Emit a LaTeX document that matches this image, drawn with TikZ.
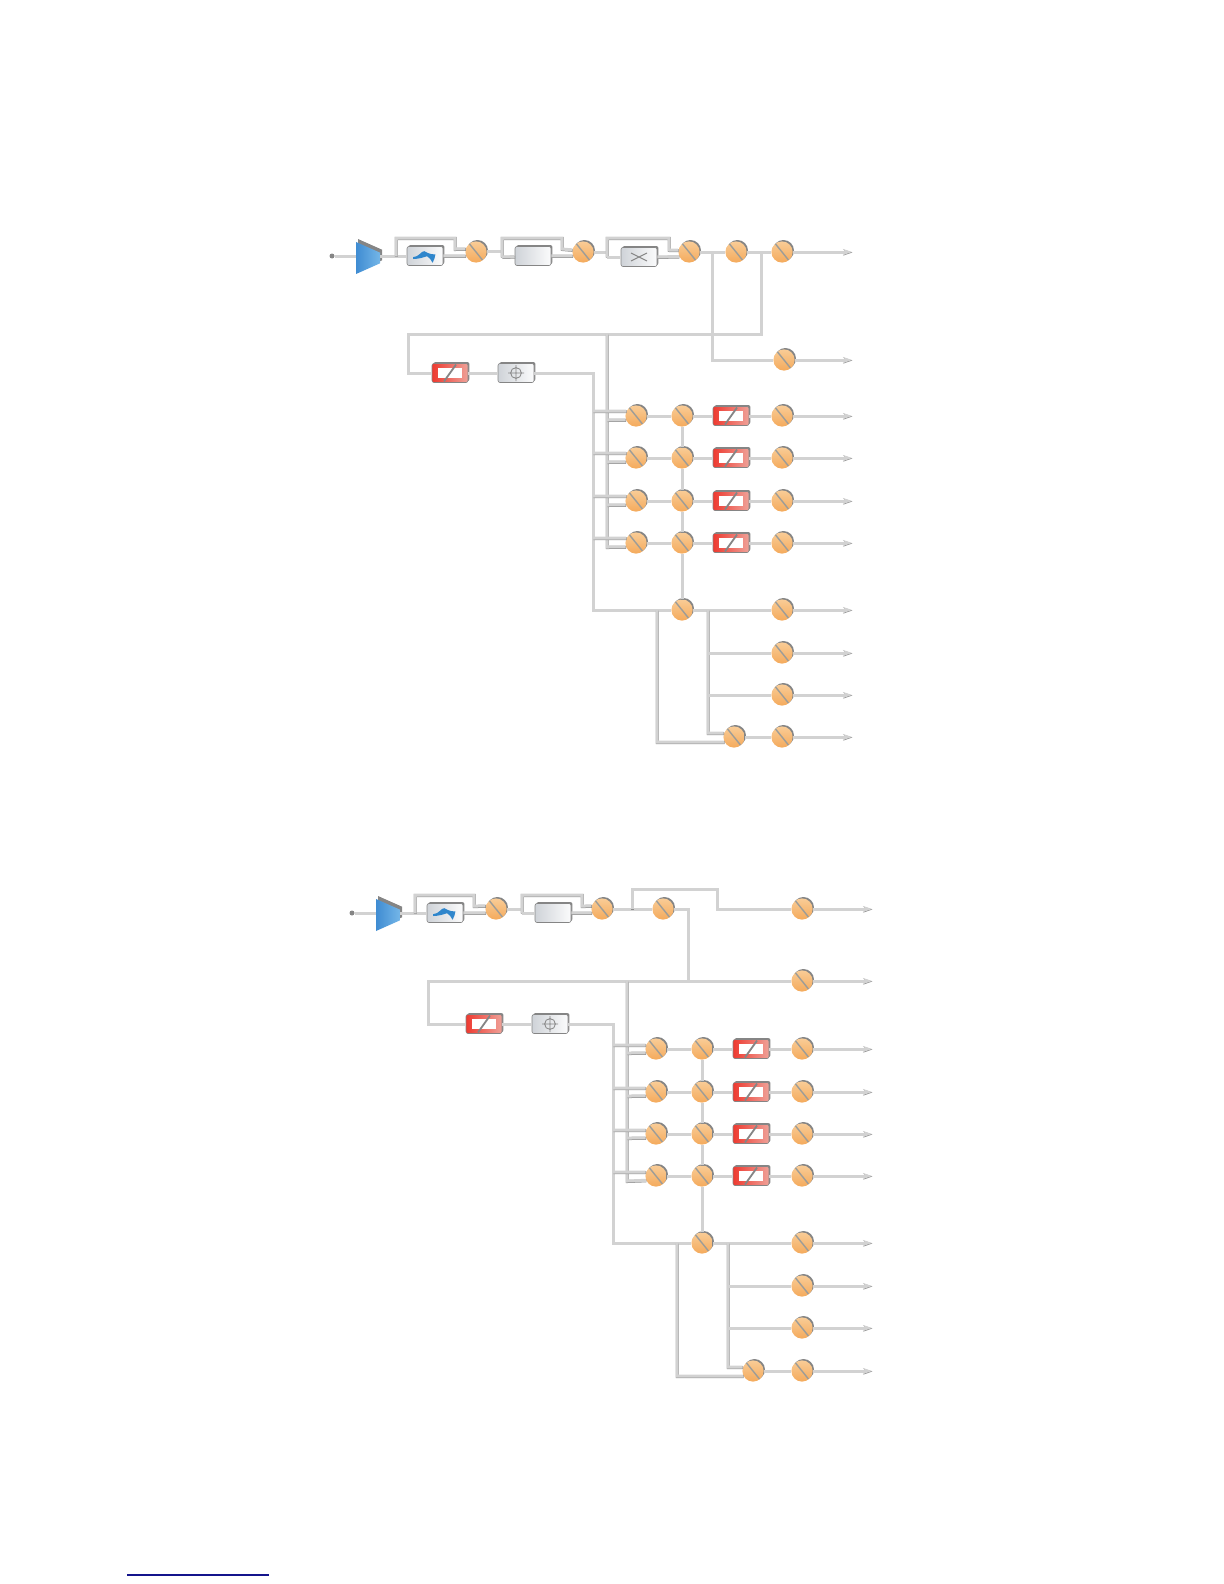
\documentclass[tikz,border=0pt]{standalone}
\usetikzlibrary{arrows.meta,shapes.geometric,shadows}
\definecolor{wirelight}{HTML}{D2D2D2}
\definecolor{wiredark}{HTML}{8C8C8C}
\definecolor{edgegrey}{HTML}{858585}
\definecolor{slashgrey}{HTML}{9C9C98}
\definecolor{ballhi}{HTML}{F9CC96}
\definecolor{balllo}{HTML}{F4AA5C}
\definecolor{ampblue}{HTML}{3F8CD2}
\definecolor{amplight}{HTML}{74B6E8}
\definecolor{redhi}{HTML}{EE3A30}
\definecolor{redlo}{HTML}{EFA198}
\definecolor{boxlo}{HTML}{CFD3D8}
\definecolor{filterblue}{HTML}{2F86CC}
\definecolor{linkblue}{HTML}{14148C}
\tikzset{
  wire/.style={draw=wirelight, line width=1.5pt, preaction={draw=wiredark, line width=1.5pt, transform canvas={shift={(.2pt,-.25pt)}}}},
  feed/.style={wire, -{Stealth[length=4.5pt,width=3pt,fill=wirelight]}},
  edge shade/.style={drop shadow={shadow xshift=.7pt,shadow yshift=.7pt,opacity=1,fill=edgegrey}},
  ball/.style={circle, minimum size=10.6pt, inner sep=0pt, top color=ballhi, bottom color=balllo, edge shade,
    path picture={\draw[slashgrey, line width=.7pt] (path picture bounding box.north west) ++(2pt,-1.2pt) -- ([shift={(-2pt,1.2pt)}]path picture bounding box.south east);}},
  panelbox/.style={rectangle, rounded corners=1pt, minimum width=18pt, minimum height=9.5pt, inner sep=0pt, edge shade, draw=edgegrey, line width=.3pt},
  plainbox/.style={panelbox, left color=boxlo, right color=white!92!boxlo},
  filterbox/.style={plainbox,
    path picture={\fill[filterblue, sharp corners, shift={(path picture bounding box.center)}, x=1pt, y=1pt] (-6,-.6) .. controls (-3,-.5) and (-1.8,2.6) .. (-.4,2.4) .. controls (.8,2.2) and (1,.9) .. (5.2,.8) .. controls (5,-.5) and (4.6,-2) .. (3.8,-3.4) .. controls (3,-2) and (2.2,-.6) .. (1,-.1) .. controls (-.5,-.6) and (-3,-1.5) .. (-6,-1.5) -- cycle;}},
  crossbox/.style={plainbox,
    path picture={\draw[edgegrey, sharp corners, line width=.5pt] ([shift={(-4pt,2pt)}]path picture bounding box.center) -- ++(8pt,-4pt) ([shift={(-4pt,-2pt)}]path picture bounding box.center) -- ++(8pt,4pt);}},
  phasebox/.style={plainbox,
    path picture={\draw[edgegrey, sharp corners, line width=.4pt] (path picture bounding box.center) circle (2.7pt) ([xshift=-4pt]path picture bounding box.center) -- ++(8pt,0) ([yshift=-4pt]path picture bounding box.center) -- ++(0,8pt);}},
  attenbox/.style={panelbox, left color=redhi, right color=redlo,
    path picture={\fill[white, sharp corners] ([shift={(-6.2pt,-2.7pt)}]path picture bounding box.center) rectangle ++(12.4pt,5.4pt);
      \draw[edgegrey, line width=.9pt] ([shift={(-3pt,-4.2pt)}]path picture bounding box.center) -- ++(6pt,8.4pt);}},
  ampnode/.style={trapezium, trapezium angle=45, trapezium stretches=true, shape border rotate=270, minimum width=16pt, minimum height=12pt, inner sep=1pt, left color=ampblue, right color=amplight, drop shadow={shadow xshift=1pt,shadow yshift=1.5pt,opacity=1,fill=edgegrey}},
  plug/.style={circle, fill=edgegrey, minimum size=2.5pt, inner sep=0pt}
}
\begin{document}
\begin{tikzpicture}[x=.5pt,y=-.5pt]
\useasboundingbox (0,0) rectangle (1224,1584);
\node[plug] (aIn) at (332,256) {};
\node[ampnode] (aAmp) at (368,258) {};
\node[filterbox] (aFilter) at (425,256) {};
\node[ball] (aS1) at (476,252) {};
\node[plainbox] (aBlank) at (533,256) {};
\node[ball] (aS2) at (583,252) {};
\node[crossbox] (aCross) at (639,257) {};
\node[ball] (aS3) at (689,252) {};
\node[ball] (aS4) at (736,252) {};
\node[ball] (aS5) at (782,252) {};
\node[ball] (aS6) at (784,360) {};
\node[attenbox] (aAtten) at (450,373) {};
\node[phasebox] (aPhase) at (516,373) {};
\node[ball] (aA1) at (636,416) {};
\node[ball] (aB1) at (682,416) {};
\node[attenbox] (aR1) at (731,416) {};
\node[ball] (aC1) at (782,416) {};
\node[ball] (aA2) at (636,458) {};
\node[ball] (aB2) at (682,458) {};
\node[attenbox] (aR2) at (731,458) {};
\node[ball] (aC2) at (782,458) {};
\node[ball] (aA3) at (636,501) {};
\node[ball] (aB3) at (682,501) {};
\node[attenbox] (aR3) at (731,501) {};
\node[ball] (aC3) at (782,501) {};
\node[ball] (aA4) at (636,543) {};
\node[ball] (aB4) at (682,543) {};
\node[attenbox] (aR4) at (731,543) {};
\node[ball] (aC4) at (782,543) {};
\node[ball] (aE) at (682,610) {};
\node[ball] (aF1) at (782,610) {};
\node[ball] (aF2) at (782,653) {};
\node[ball] (aF3) at (782,695) {};
\node[ball] (aF4) at (782,737) {};
\node[ball] (aG) at (734,737) {};
\coordinate (aI1) at (356,256);
\coordinate (aI2) at (380,256);
\coordinate (aJ1) at (396,256);
\coordinate (aJ2) at (396,238);
\coordinate (aJ3) at (455,238);
\coordinate (aJ4) at (455,249);
\coordinate (aK1) at (502,251);
\coordinate (aK2) at (502,238);
\coordinate (aK3) at (562,238);
\coordinate (aK4) at (562,249);
\coordinate (aK5) at (502,257);
\coordinate (aL1) at (607,252);
\coordinate (aL2) at (607,238);
\coordinate (aL3) at (669,238);
\coordinate (aL4) at (669,250);
\coordinate (aL5) at (607,257);
\coordinate (aM1) at (712,252);
\coordinate (aM2) at (712,360);
\coordinate (aN1) at (761,252);
\coordinate (aN2) at (761,334);
\coordinate (aN3) at (408,334);
\coordinate (aN4) at (408,373);
\coordinate (aP1) at (593,373);
\coordinate (aP2) at (593,610);
\coordinate (aT1) at (593,411);
\coordinate (aT2) at (593,453);
\coordinate (aT3) at (593,496);
\coordinate (aT4) at (593,538);
\coordinate (aU0) at (607,334);
\coordinate (aU1) at (607,420);
\coordinate (aU2) at (607,462);
\coordinate (aU3) at (607,505);
\coordinate (aU4) at (607,547);
\coordinate (aV1) at (657,610);
\coordinate (aV2) at (657,742);
\coordinate (aW1) at (708,610);
\coordinate (aW2) at (708,653);
\coordinate (aW3) at (708,695);
\coordinate (aW4) at (708,733);
\coordinate (aOut1) at (852,252);
\coordinate (aOut2) at (852,360);
\coordinate (aOut3) at (852,416);
\coordinate (aOut4) at (852,458);
\coordinate (aOut5) at (852,501);
\coordinate (aOut6) at (852,543);
\coordinate (aOut7) at (852,610);
\coordinate (aOut8) at (852,653);
\coordinate (aOut9) at (852,695);
\coordinate (aOut10) at (852,737);
\draw[wire] (aIn) -- (aI1);
\draw[wire] (aI2) -- (aFilter);
\draw[wire] (aJ1) -- (aJ2) -- (aJ3) -- (aJ4) -- (aS1.164);
\draw[wire] (aFilter) -- (aS1.201);
\draw[wire] (aS1.east |- aK1) -- (aK1);
\draw[wire] (aK5) -- (aK2) -- (aK3) -- (aK4) -- (aS2.169);
\draw[wire] (aK5) -- (aBlank);
\draw[wire] (aBlank) -- (aS2.201);
\draw[wire] (aS2) -- (aL1);
\draw[wire] (aL5) -- (aL2) -- (aL3) -- (aL4) -- (aS3.170);
\draw[wire] (aL5) -- (aCross);
\draw[wire] (aCross) -- (aS3.205);
\draw[wire] (aS3) -- (aS4);
\draw[wire] (aS4) -- (aS5);
\draw[feed] (aS5) -- (aOut1);
\draw[wire] (aM1) -- (aM2) -- (aS6);
\draw[feed] (aS6) -- (aOut2);
\draw[wire] (aN1) -- (aN2) -- (aN3) -- (aN4) -- (aAtten);
\draw[wire] (aAtten) -- (aPhase);
\draw[wire] (aPhase) -- (aP1) -- (aP2) -- (aE);
\draw[wire] (aU0) -- (aU4) -- (aA4.201);
\draw[wire] (aT1) -- (aA1.153);
\draw[wire] (aT2) -- (aA2.153);
\draw[wire] (aT3) -- (aA3.153);
\draw[wire] (aT4) -- (aA4.153);
\draw[wire] (aU1) -- (aA1.201);
\draw[wire] (aU2) -- (aA2.201);
\draw[wire] (aU3) -- (aA3.201);
\draw[wire] (aA1) -- (aB1);
\draw[wire] (aB1) -- (aR1);
\draw[wire] (aR1) -- (aC1);
\draw[feed] (aC1) -- (aOut3);
\draw[wire] (aA2) -- (aB2);
\draw[wire] (aB2) -- (aR2);
\draw[wire] (aR2) -- (aC2);
\draw[feed] (aC2) -- (aOut4);
\draw[wire] (aA3) -- (aB3);
\draw[wire] (aB3) -- (aR3);
\draw[wire] (aR3) -- (aC3);
\draw[feed] (aC3) -- (aOut5);
\draw[wire] (aA4) -- (aB4);
\draw[wire] (aB4) -- (aR4);
\draw[wire] (aR4) -- (aC4);
\draw[feed] (aC4) -- (aOut6);
\draw[wire] (aB1) -- (aB2);
\draw[wire] (aB2) -- (aB3);
\draw[wire] (aB3) -- (aB4);
\draw[wire] (aB4) -- (aE);
\draw[wire] (aE) -- (aF1);
\draw[wire] (aW1) -- (aW4) -- (aG.159);
\draw[wire] (aV1) -- (aV2) -- (aG.207);
\draw[wire] (aW2) -- (aF2);
\draw[wire] (aW3) -- (aF3);
\draw[wire] (aG) -- (aF4);
\draw[feed] (aF1) -- (aOut7);
\draw[feed] (aF2) -- (aOut8);
\draw[feed] (aF3) -- (aOut9);
\draw[feed] (aF4) -- (aOut10);
\node[plug] (bIn) at (352,913) {};
\node[ampnode] (bAmp) at (388,915) {};
\node[filterbox] (bFilter) at (445,913) {};
\node[ball] (bS1) at (496,909) {};
\node[plainbox] (bBlank) at (553,913) {};
\node[ball] (bS2) at (602,909) {};
\node[ball] (bS3) at (663,909) {};
\node[ball] (bS4) at (802,909) {};
\node[ball] (bS5) at (802,981) {};
\node[attenbox] (bAtten) at (484,1024) {};
\node[phasebox] (bPhase) at (550,1024) {};
\node[ball] (bA1) at (656,1049) {};
\node[ball] (bB1) at (702,1049) {};
\node[attenbox] (bR1) at (751,1049) {};
\node[ball] (bC1) at (802,1049) {};
\node[ball] (bA2) at (656,1092) {};
\node[ball] (bB2) at (702,1092) {};
\node[attenbox] (bR2) at (751,1092) {};
\node[ball] (bC2) at (802,1092) {};
\node[ball] (bA3) at (656,1134) {};
\node[ball] (bB3) at (702,1134) {};
\node[attenbox] (bR3) at (751,1134) {};
\node[ball] (bC3) at (802,1134) {};
\node[ball] (bA4) at (656,1176) {};
\node[ball] (bB4) at (702,1176) {};
\node[attenbox] (bR4) at (751,1176) {};
\node[ball] (bC4) at (802,1176) {};
\node[ball] (bE) at (702,1243) {};
\node[ball] (bF1) at (802,1243) {};
\node[ball] (bF2) at (802,1286) {};
\node[ball] (bF3) at (802,1328) {};
\node[ball] (bF4) at (802,1371) {};
\node[ball] (bG) at (753,1371) {};
\coordinate (bI1) at (376,913);
\coordinate (bI2) at (400,913);
\coordinate (bJ1) at (415,913);
\coordinate (bJ2) at (415,895);
\coordinate (bJ3) at (474,895);
\coordinate (bJ4) at (474,906);
\coordinate (bK1) at (522,909);
\coordinate (bK2) at (522,895);
\coordinate (bK3) at (582,895);
\coordinate (bK4) at (582,906);
\coordinate (bK5) at (522,913);
\coordinate (bL1) at (632,909);
\coordinate (bL2) at (632,889);
\coordinate (bL3) at (717,889);
\coordinate (bL4) at (717,909);
\coordinate (bM1) at (688,909);
\coordinate (bM2) at (688,981);
\coordinate (bN1) at (428,981);
\coordinate (bN2) at (428,1024);
\coordinate (bP1) at (613,1024);
\coordinate (bP2) at (613,1243);
\coordinate (bT1) at (613,1045);
\coordinate (bT2) at (613,1088);
\coordinate (bT3) at (613,1130);
\coordinate (bT4) at (613,1172);
\coordinate (bU0) at (627,981);
\coordinate (bU1) at (627,1053);
\coordinate (bU2) at (627,1096);
\coordinate (bU3) at (627,1138);
\coordinate (bU4) at (627,1181);
\coordinate (bV1) at (677,1243);
\coordinate (bV2) at (677,1376);
\coordinate (bW1) at (728,1243);
\coordinate (bW2) at (728,1286);
\coordinate (bW3) at (728,1328);
\coordinate (bW4) at (728,1367);
\coordinate (bOut1) at (872,909);
\coordinate (bOut2) at (872,981);
\coordinate (bOut3) at (872,1049);
\coordinate (bOut4) at (872,1092);
\coordinate (bOut5) at (872,1134);
\coordinate (bOut6) at (872,1176);
\coordinate (bOut7) at (872,1243);
\coordinate (bOut8) at (872,1286);
\coordinate (bOut9) at (872,1328);
\coordinate (bOut10) at (872,1371);
\coordinate (bLinkA) at (127,1575);
\coordinate (bLinkB) at (269,1575);
\draw[wire] (bIn) -- (bI1);
\draw[wire] (bI2) -- (bFilter);
\draw[wire] (bJ1) -- (bJ2) -- (bJ3) -- (bJ4) -- (bS1.164);
\draw[wire] (bFilter) -- (bS1.201);
\draw[wire] (bS1) -- (bK1);
\draw[wire] (bK5) -- (bK2) -- (bK3) -- (bK4) -- (bS2.164);
\draw[wire] (bK5) -- (bBlank);
\draw[wire] (bBlank) -- (bS2.201);
\draw[wire] (bS2) -- (bS3);
\draw[wire] (bL1) -- (bL2) -- (bL3) -- (bL4) -- (bS4);
\draw[feed] (bS4) -- (bOut1);
\draw[wire] (bS3) -- (bM1) -- (bM2);
\draw[wire] (bS5) -- (bN1) -- (bN2) -- (bAtten);
\draw[feed] (bS5) -- (bOut2);
\draw[wire] (bAtten) -- (bPhase);
\draw[wire] (bPhase) -- (bP1) -- (bP2) -- (bE);
\draw[wire] (bU0) -- (bU4) -- (bA4.203);
\draw[wire] (bT1) -- (bA1.159);
\draw[wire] (bT2) -- (bA2.159);
\draw[wire] (bT3) -- (bA3.159);
\draw[wire] (bT4) -- (bA4.159);
\draw[wire] (bU1) -- (bA1.201);
\draw[wire] (bU2) -- (bA2.201);
\draw[wire] (bU3) -- (bA3.201);
\draw[wire] (bA1) -- (bB1);
\draw[wire] (bB1) -- (bR1);
\draw[wire] (bR1) -- (bC1);
\draw[feed] (bC1) -- (bOut3);
\draw[wire] (bA2) -- (bB2);
\draw[wire] (bB2) -- (bR2);
\draw[wire] (bR2) -- (bC2);
\draw[feed] (bC2) -- (bOut4);
\draw[wire] (bA3) -- (bB3);
\draw[wire] (bB3) -- (bR3);
\draw[wire] (bR3) -- (bC3);
\draw[feed] (bC3) -- (bOut5);
\draw[wire] (bA4) -- (bB4);
\draw[wire] (bB4) -- (bR4);
\draw[wire] (bR4) -- (bC4);
\draw[feed] (bC4) -- (bOut6);
\draw[wire] (bB1) -- (bB2);
\draw[wire] (bB2) -- (bB3);
\draw[wire] (bB3) -- (bB4);
\draw[wire] (bB4) -- (bE);
\draw[wire] (bE) -- (bF1);
\draw[wire] (bW1) -- (bW4) -- (bG.159);
\draw[wire] (bV1) -- (bV2) -- (bG.207);
\draw[wire] (bW2) -- (bF2);
\draw[wire] (bW3) -- (bF3);
\draw[wire] (bG) -- (bF4);
\draw[feed] (bF1) -- (bOut7);
\draw[feed] (bF2) -- (bOut8);
\draw[feed] (bF3) -- (bOut9);
\draw[feed] (bF4) -- (bOut10);
\draw[linkblue, line width=.6pt] (bLinkA) -- (bLinkB);
\end{tikzpicture}
\end{document}
